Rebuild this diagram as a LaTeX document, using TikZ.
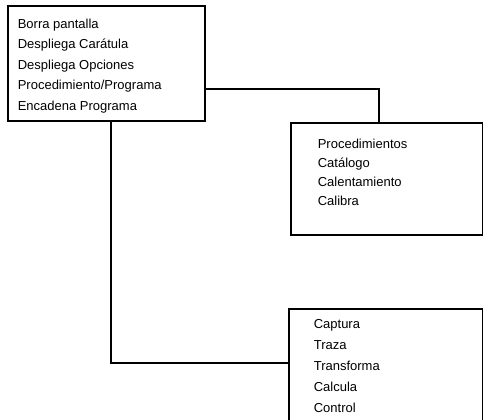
\documentclass[tikz,border=0pt]{standalone}
\usepackage{fontspec}
\setmainfont{Liberation Sans}
\usetikzlibrary{positioning,calc}
\begin{document}
\begin{tikzpicture}[x=1pt, y=-1pt, line width=1.6pt]
\tikzstyle{caja}=[draw=black, line width=1.6pt, anchor=north west, inner sep=0pt]
\tikzstyle{lista}=[anchor=north west, inner sep=0pt, align=left, text=black]
\useasboundingbox (0,0) rectangle (483,420);
\node[caja, minimum width=197pt, minimum height=115pt] (menu) at (7,5) {};
\node[caja, minimum width=192pt, minimum height=112pt] (proc) at (290,122) {};
\node[caja, minimum width=194pt, minimum height=132pt] (prog) at (288,308) {};
\node[lista, font=\fontsize{13}{20.5}\selectfont] (menutxt) at (17,18)
  {Borra pantalla\\Despliega Carátula\\Despliega Opciones\\Procedimiento/Programa\\Encadena Programa};
\node[lista, font=\fontsize{13}{19}\selectfont] (proctxt) at (317,138)
  {Procedimientos\\Catálogo\\Calentamiento\\Calibra};
\node[lista, font=\fontsize{13}{21}\selectfont] (progtxt) at (313,319)
  {Captura\\Traza\\Transforma\\Calcula\\Control};
\draw ([yshift=-25.5pt]menu.east) -| ([xshift=-8pt]proc.north);
\draw ([xshift=4.5pt]menu.south) |- ([yshift=-55pt]prog.north west);
\end{tikzpicture}
\end{document}
